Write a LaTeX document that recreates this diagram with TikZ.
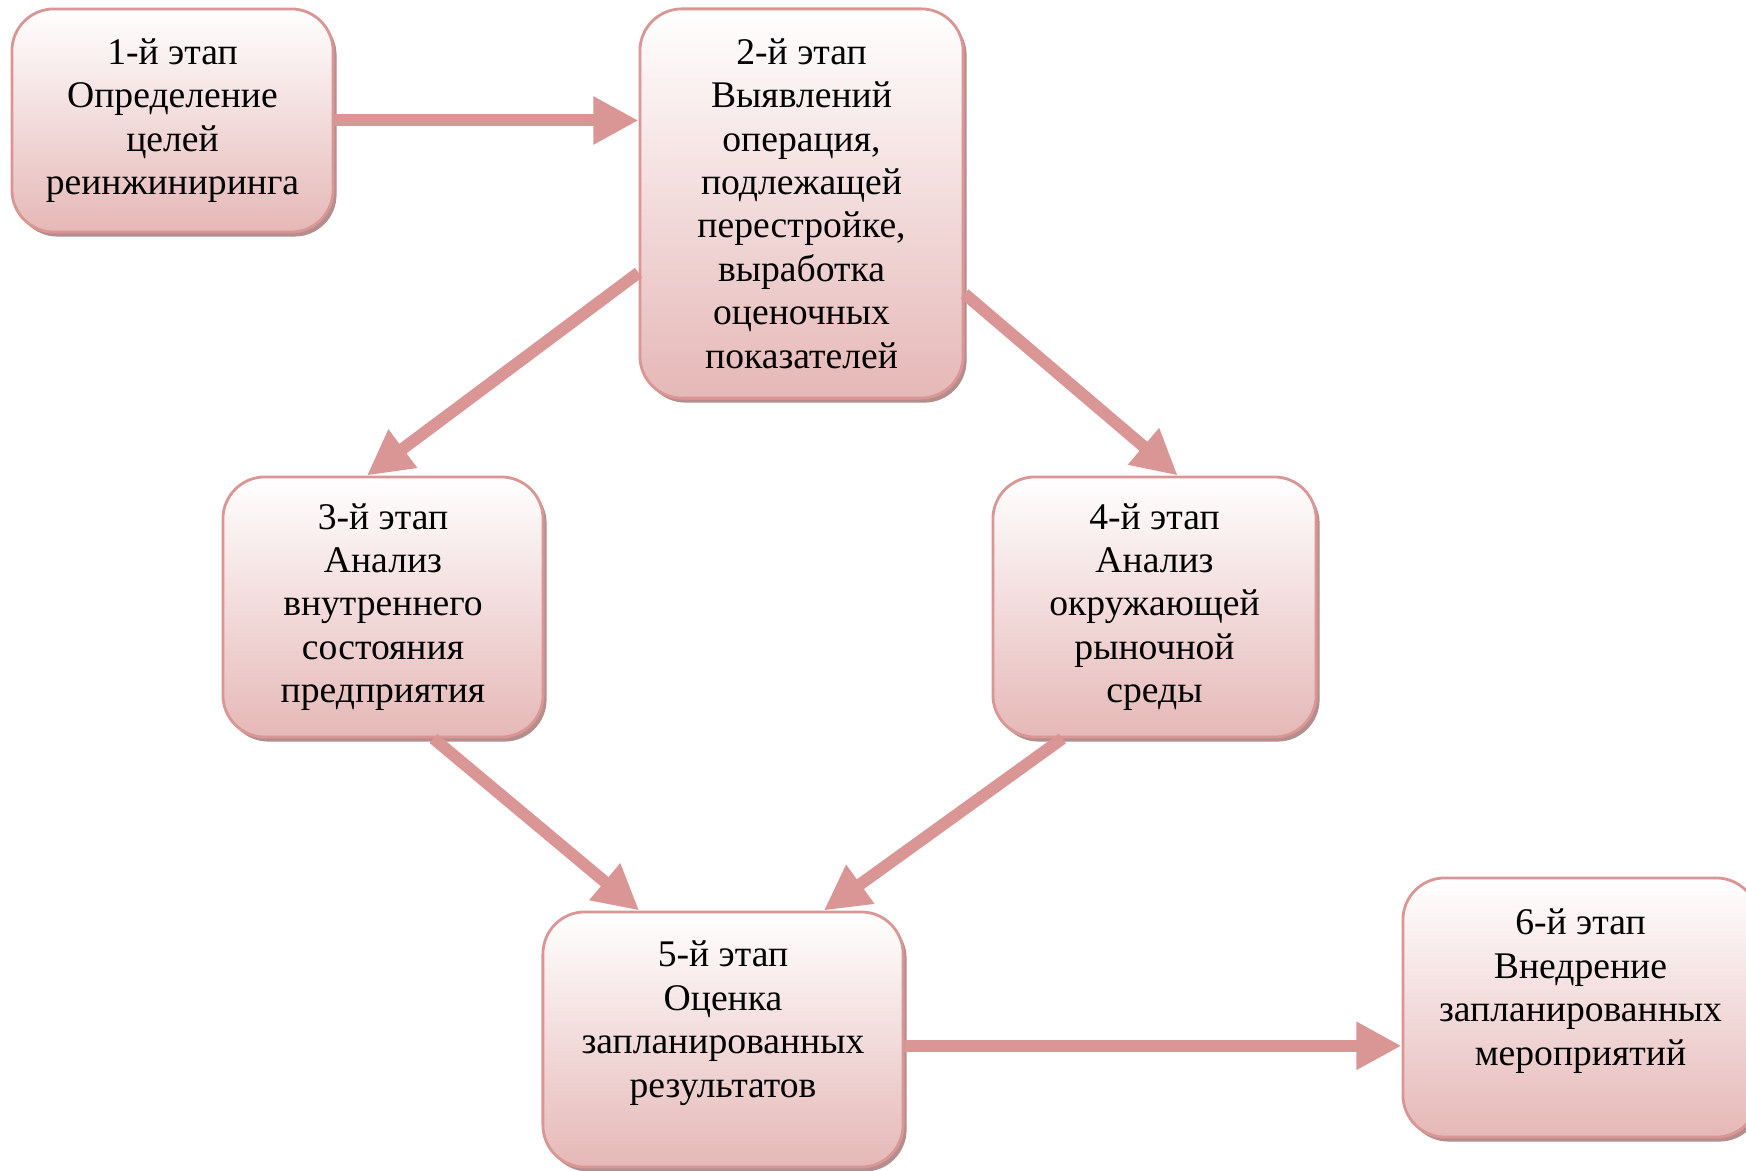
\documentclass[tikz,border=0pt]{standalone}
\usepackage{fontspec}
\setmainfont{Liberation Serif}
\usetikzlibrary{arrows.meta,shadows}
\definecolor{stageline}{RGB}{217,150,148}
\definecolor{stagebot}{RGB}{229,184,183}
\definecolor{stageshadow}{RGB}{180,142,142}
\tikzset{
  stage/.style={draw=stageline, line width=0.8pt, rounded corners=0.42cm,
    top color=white, bottom color=stagebot, inner sep=0pt, align=center,
    font=\fontsize{10.7pt}{12.35pt}\selectfont,
    drop shadow={shadow xshift=0.035cm, shadow yshift=-0.045cm, fill=stageshadow, opacity=1}},
  flow/.style={draw=stageline, line width=0.12cm, -{Triangle[width=0.45cm,length=0.45cm]}}
}

\begin{document}
\begin{tikzpicture}[x=0.01cm, y=-0.01cm]
    \useasboundingbox (0,0) rectangle (1746,1171);
    % stages
    \node[stage, minimum width=3.21cm, minimum height=2.23cm] (s1) at (172.5,120.5)
        {1-й этап\\Определение\\целей\\реинжиниринга};
    \node[stage, minimum width=3.23cm, minimum height=3.89cm] (s2) at (801.5,203.5)
        {2-й этап\\Выявлений\\операция,\\подлежащей\\перестройке,\\выработка\\оценочных\\показателей};
    \node[stage, minimum width=3.20cm, minimum height=2.60cm] (s3) at (383,607)
        {3-й этап\\Анализ\\внутреннего\\состояния\\предприятия};
    \node[stage, minimum width=3.23cm, minimum height=2.60cm] (s4) at (1154.5,607)
        {4-й этап\\Анализ\\окружающей\\рыночной\\среды};
    \node[stage, minimum width=3.60cm, minimum height=2.55cm, text depth=0.41cm] (s5) at (723,1039.5)
        {5-й этап\\Оценка\\запланированных\\результатов};
    \node[stage, minimum width=3.55cm, minimum height=2.59cm, text depth=0.41cm] (s6) at (1580.5,1007.5)
        {6-й этап\\Внедрение\\запланированных\\мероприятий};
    % arrows
    \draw[flow] (s1) -- (s1 -| s2.west);
    \draw[flow] (s2.203) -- (s3.97);
    \draw[flow] (s2.331) -- (s4.80);
    \draw[flow] (s3.291) -- (s5.123);
    \draw[flow] (s4.235) -- (s5.52);
    \draw[flow] (s5.358) -- (s5.358 -| s6.west);
\end{tikzpicture}
\end{document}
